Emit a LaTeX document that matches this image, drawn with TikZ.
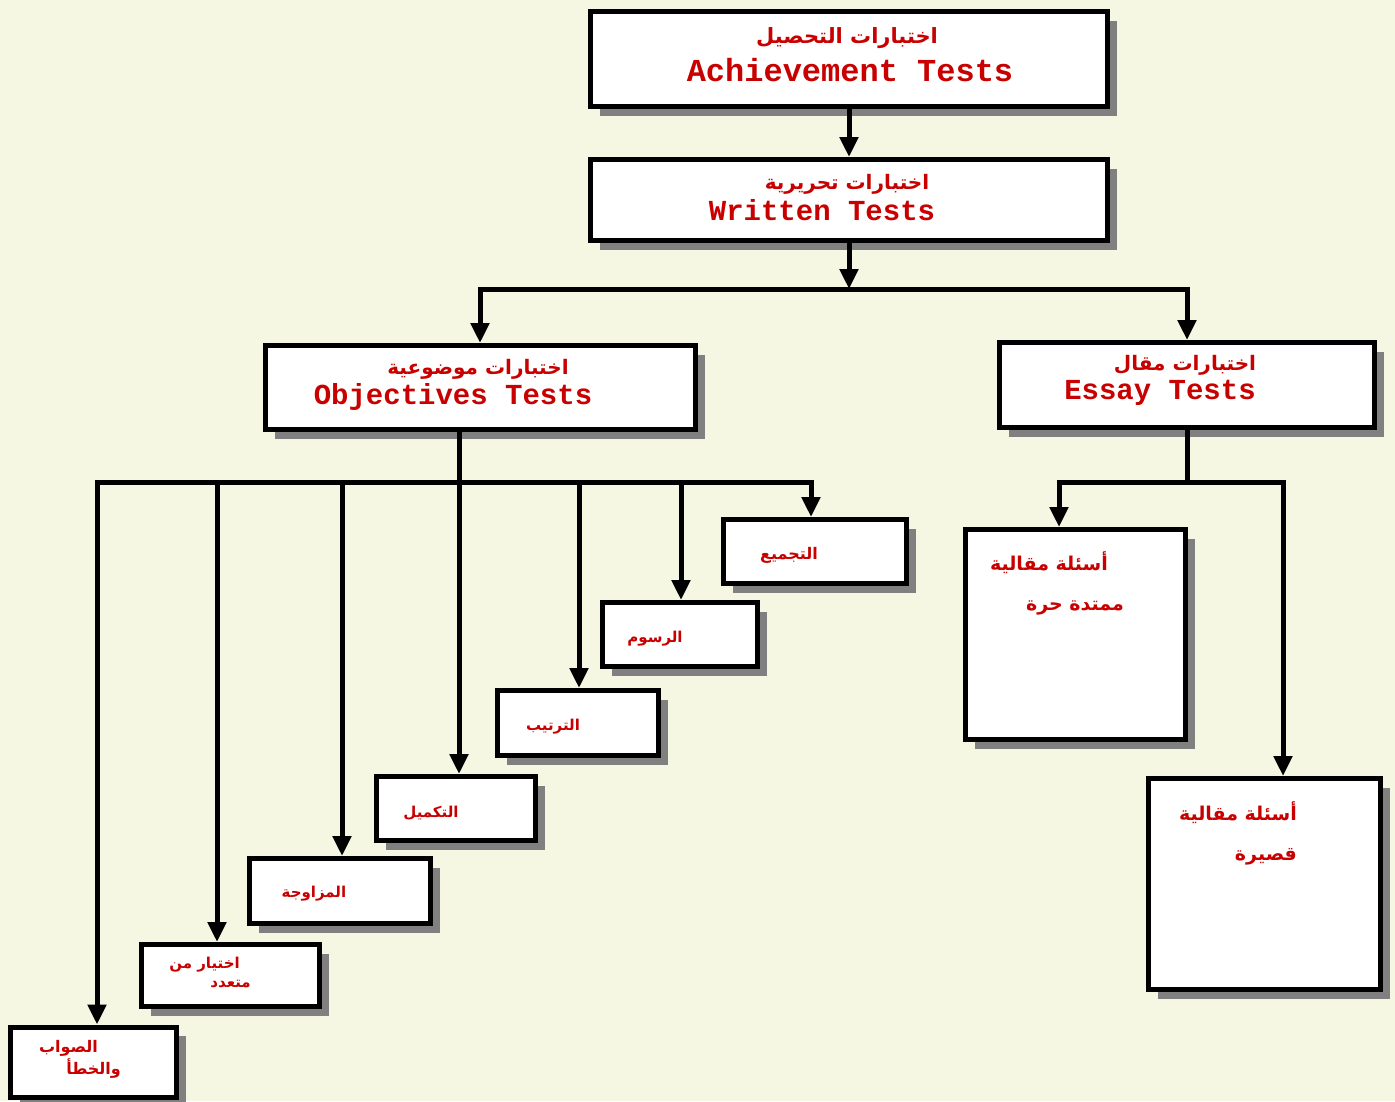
\documentclass[tikz,border=0pt]{standalone}
\usepackage{fontspec}
\setmonofont{Liberation Mono}
\newfontfamily\arabicfont[Script=Arabic]{DejaVu Sans}
\TeXXeTstate=1
\usetikzlibrary{arrows.meta, shadows}
\definecolor{paper}{RGB}{245,247,226}
\definecolor{labelred}{RGB}{200,0,0}
\newcommand{\arsize}[2]{\arabicfont\bfseries\fontsize{#1}{#2}\selectfont}
\newcommand{\ensize}[1]{\ttfamily\bfseries\fontsize{#1}{#1}\selectfont}

\begin{document}
\begin{tikzpicture}[
        x=1pt,
        y=-1pt,
        line width=5pt,
        >={Triangle[width=18pt, length=20pt]},
        box/.style={draw, fill=white, inner sep=0pt,
            drop shadow={shadow xshift=9pt, shadow yshift=-9pt, draw=none, fill=black!50, opacity=1}},
        txt/.style={text=labelred, inner sep=0pt, align=right},
        link/.style={->}
    ]
    \fill[paper] (0,0) rectangle (1395,1101);
    \useasboundingbox (0,0) rectangle (1395,1101);

    \node[box, minimum width=517pt, minimum height=95pt] (ach) at (849,59) {};
    \node[box, minimum width=517pt, minimum height=81pt] (wri) at (849,200) {};
    \node[box, minimum width=430pt, minimum height=84pt] (obj) at (480.5,387.5) {};
    \node[box, minimum width=375pt, minimum height=85pt] (ess) at (1187,385) {};

    \node[box, minimum width=183pt, minimum height=64pt] (tajmi) at (815,551.5) {};
    \node[box, minimum width=155pt, minimum height=64pt] (rusum) at (680,634.5) {};
    \node[box, minimum width=161pt, minimum height=65pt] (tartib) at (578,723) {};
    \node[box, minimum width=159pt, minimum height=64pt] (takmil) at (456,808.5) {};
    \node[box, minimum width=181pt, minimum height=65pt] (muzawaja) at (340,891) {};
    \node[box, minimum width=178pt, minimum height=62pt] (ikhtiyar) at (230.5,975.5) {};
    \node[box, minimum width=166pt, minimum height=70pt] (sawab) at (93.5,1062) {};

    \node[box, minimum width=220pt, minimum height=210pt] (longq) at (1075.5,634.5) {};
    \node[box, minimum width=232pt, minimum height=211pt] (shortq) at (1264.5,884) {};

    \node[txt, font=\arsize{21}{26}] (achAr) at (847,38) {\beginR اختبارات التحصيل\endR};
    \node[txt, font=\ensize{32}] (achEn) at (850,70) {Achievement Tests};
    \node[txt, font=\arsize{20}{26}] (wriAr) at (847,184) {\beginR اختبارات تحريرية\endR};
    \node[txt, font=\ensize{29}] (wriEn) at (822,210) {Written Tests};
    \node[txt, font=\arsize{20}{26}] (objAr) at (478,369) {\beginR اختبارات موضوعية\endR};
    \node[txt, font=\ensize{29}] (objEn) at (453,397) {Objectives Tests};
    \node[txt, font=\arsize{20}{26}] (essAr) at (1185,365) {\beginR اختبارات مقال\endR};
    \node[txt, font=\ensize{29}] (essEn) at (1160,393) {Essay Tests};

    \node[txt, font=\arsize{16}{22}] (tajmiT) at (789,555) {\beginR التجميع\endR};
    \node[txt, font=\arsize{15}{22}] (rusumT) at (655,639) {\beginR الرسوم\endR};
    \node[txt, font=\arsize{15}{22}] (tartibT) at (553,727) {\beginR الترتيب\endR};
    \node[txt, font=\arsize{15}{22}] (takmilT) at (431,813) {\beginR التكميل\endR};
    \node[txt, font=\arsize{15}{22}] (muzawajaT) at (314,894) {\beginR المزاوجة\endR};
    \node[txt, font=\arsize{15}{19}] (ikhtiyarT) at (210,972) {\beginR اختيار من\endR\hspace*{11pt}\\\beginR متعدد\endR};
    \node[txt, font=\arsize{16}{22}] (sawabT) at (80,1059) {\beginR الصواب\endR\hspace*{23pt}\\\beginR والخطأ\endR};
    \node[txt, font=\arsize{19}{40}] (longqT) at (1057,583) {\beginR أسئلة مقالية\endR\hspace*{16pt}\\\beginR ممتدة حرة\endR};
    \node[txt, font=\arsize{19}{40}] (shortqT) at (1238,833) {\beginR أسئلة مقالية\endR\\\beginR قصيرة\endR};

    \coordinate (split) at (849,289);
    \coordinate (splitL) at (480,289);
    \coordinate (splitR) at (1187,289);
    \coordinate (ob) at (459,482);
    \coordinate (es) at (1187,482);

    \draw[link] (ach) -- (wri);
    \draw[link] (wri) -- (split);
    \draw[link] (splitR) -- (splitL) -- (splitL |- obj.north);
    \draw[link] (splitL) -- (splitR) -- (splitR |- ess.north);

    \draw (ob |- obj.south) -- (ob);
    \foreach \x/\t in {97/sawab, 217/ikhtiyar, 342/muzawaja, 459/takmil, 579/tartib, 681/rusum, 811/tajmi}
        \draw[link] (ob) -- (\x,482) -- (\x,482 |- \t.north);

    \draw (es |- ess.south) -- (es);
    \foreach \x/\t in {1059/longq, 1283/shortq}
        \draw[link] (es) -- (\x,482) -- (\x,482 |- \t.north);
\end{tikzpicture}
\end{document}
